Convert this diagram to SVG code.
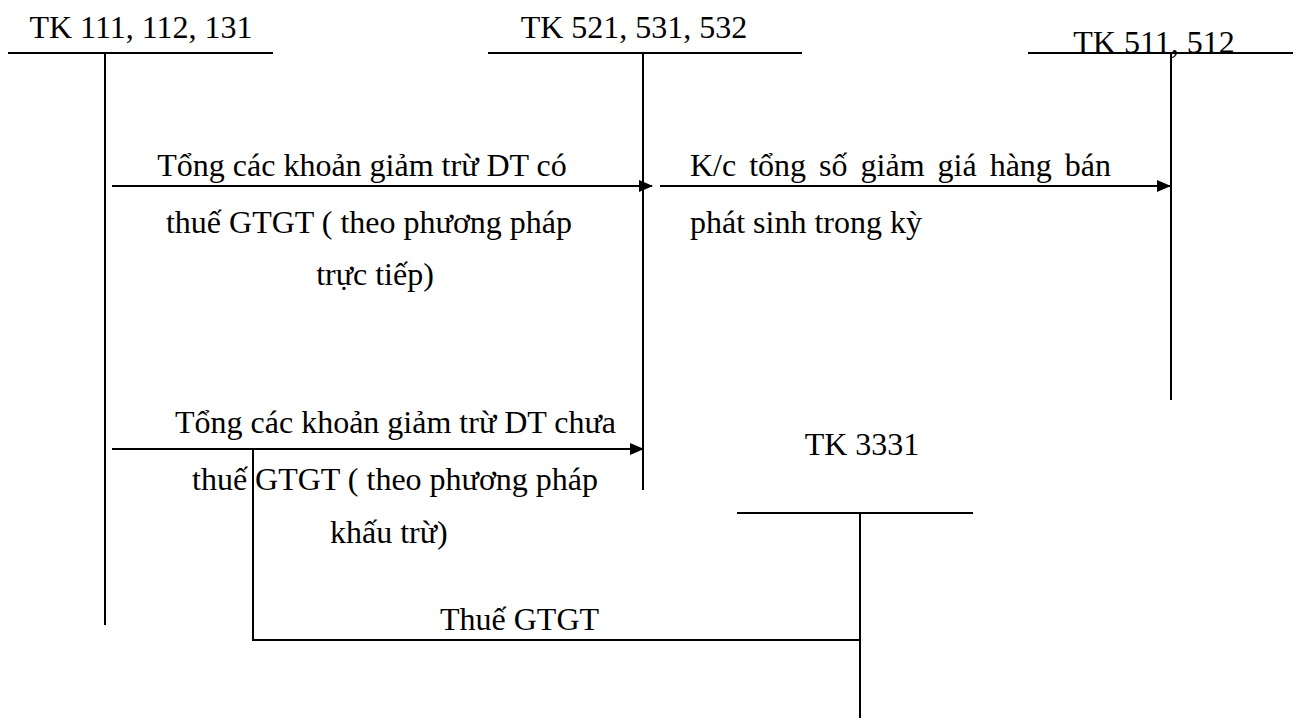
<svg xmlns="http://www.w3.org/2000/svg" width="1296" height="722" viewBox="0 0 1296 722">
<style>
text{font-family:"Liberation Serif","Times New Roman",serif;font-size:32px;fill:#000}
.ln{stroke:#000;stroke-width:2;fill:none}
.mid{text-anchor:middle}
</style>
<defs>
<marker id="ah" markerWidth="14" markerHeight="12" refX="13" refY="6" orient="auto" markerUnits="userSpaceOnUse">
<path d="M0,0 L14,6 L0,12 Z" fill="#000"/>
</marker>
</defs>
<rect width="1296" height="722" fill="#fff"/>
<g id="tk111">
<line class="ln" x1="8" y1="53" x2="273" y2="53"/>
<line class="ln" x1="105" y1="53" x2="105" y2="625"/>
<text x="141" y="38" class="mid">TK 111, 112, 131</text>
</g>
<g id="tk521">
<line class="ln" x1="488" y1="53" x2="802" y2="53"/>
<line class="ln" x1="643" y1="53" x2="643" y2="490"/>
<text x="634" y="38" class="mid">TK 521, 531, 532</text>
</g>
<g id="tk511">
<line class="ln" x1="1028" y1="53" x2="1293" y2="53"/>
<line class="ln" x1="1171" y1="53" x2="1171" y2="400"/>
<text x="1154" y="53" class="mid">TK 511, 512</text>
</g>
<g id="tk3331">
<line class="ln" x1="737" y1="513" x2="973" y2="513"/>
<line class="ln" x1="860" y1="513" x2="860" y2="718"/>
<text x="862" y="455" class="mid">TK 3331</text>
</g>
<g id="connectors">
<line class="ln" x1="112" y1="186" x2="652" y2="186" marker-end="url(#ah)"/>
<line class="ln" x1="660" y1="186" x2="1170" y2="186" marker-end="url(#ah)"/>
<line class="ln" x1="112" y1="449" x2="643" y2="449" marker-end="url(#ah)"/>
<polyline class="ln" points="253,449 253,640 860,640"/>
</g>
<g id="labels">
<text x="362" y="176" class="mid">Tổng các khoản giảm trừ DT có</text>
<text x="369" y="233" class="mid">thuế GTGT ( theo phương pháp</text>
<text x="375" y="285" class="mid">trực tiếp)</text>
<text x="690" y="176" word-spacing="5">K/c tổng số giảm giá hàng bán</text>
<text x="690" y="233">phát sinh trong kỳ</text>
<text x="175" y="433">Tổng các khoản giảm trừ DT chưa</text>
<text x="192" y="490">thuế GTGT ( theo phương pháp</text>
<text x="330" y="543">khấu trừ)</text>
<text x="440" y="630">Thuế GTGT</text>
</g>
</svg>
